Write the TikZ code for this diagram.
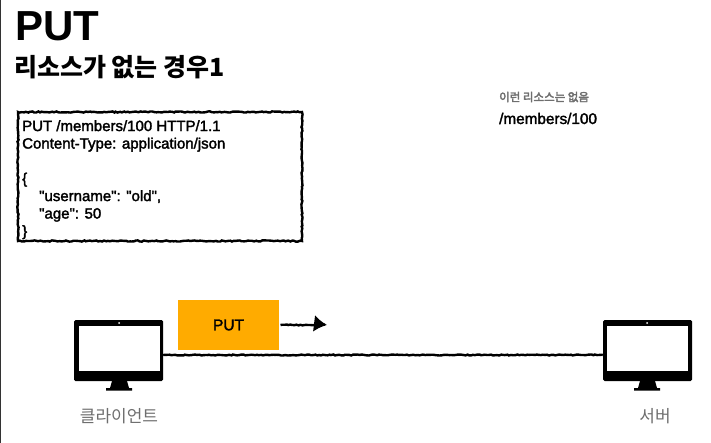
\documentclass[tikz,border=0pt]{standalone}
\usepackage{fontspec}
\setmainfont{Liberation Sans}
\newfontfamily\sansmed[FakeBold=2]{Liberation Sans}
\newfontfamily\cjk{Noto Sans CJK KR}
\newfontfamily\cjkmed[FakeBold=3]{Noto Sans CJK KR}
\usetikzlibrary{decorations.pathmorphing,arrows.meta}
\begin{document}
\begin{tikzpicture}[
        x=1pt, y=-1pt,
        title/.style={inner sep=0pt, anchor=west, font=\fontsize{42}{42}\selectfont\bfseries},
        subtitle/.style={inner sep=0pt, anchor=west, font=\fontsize{25}{25}\selectfont\cjk\bfseries},
        request/.style={draw, line width=2.4pt, decorate, decoration={random steps, segment length=2pt, amplitude=0.6pt}, minimum width=284pt, minimum height=129pt, inner sep=0pt},
        body/.style={inner sep=0pt, anchor=north west, align=left, font=\fontsize{15}{17.5}\selectfont\sansmed},
        method/.style={fill=orange1, minimum width=101pt, minimum height=50pt, inner sep=0pt, font=\fontsize{15.5}{16}\selectfont\sansmed},
        screen/.style={fill=black, rounded corners=1.5pt, minimum width=89pt, minimum height=61pt, inner sep=0pt},
        display/.style={fill=white, minimum width=81pt, minimum height=45pt, inner sep=0pt},
        caption/.style={text=gray1, inner sep=0pt, font=\fontsize{17}{17}\selectfont\cjk},
        rough/.style={line width=2.4pt, decorate, decoration={random steps, segment length=2pt, amplitude=0.5pt}}
    ]
    \definecolor{orange1}{HTML}{FFAB00}
    \definecolor{gray1}{HTML}{6E6E6E}
    \useasboundingbox (0, 0) rectangle (711, 443);

    % Window edge
    \fill[black!80] (0, 0) rectangle (1, 443);

    % Titles
    \node[title] (put_title) at (15, 26) {PUT};
    \node[subtitle] (case_title) at (14, 67) {리소스가 없는 경우1};

    % Request
    \node[request] (request_box) at (160, 176.5) {};
    \node[body] (request_text) at (22, 120) {PUT /members/100 HTTP/1.1\\
        Content-Type: application/json\\
        \mbox{}\\
        \{\\
        \hspace*{17pt}"username": "old",\\
        \hspace*{17pt}"age": 50\\
        \}};

    % Resource note
    \node[inner sep=0pt, anchor=west, text=gray1, font=\fontsize{11.5}{12}\selectfont\cjkmed] (note) at (499, 97) {이런 리소스는 없음};
    \node[inner sep=0pt, anchor=west, font=\fontsize{15.3}{16}\selectfont\sansmed] (resource) at (499, 118.5) {/members/100};

    % Client
    \node[screen] (client) at (118.5, 350.5) {};
    \node[display] (client_display) at (119.5, 348.5) {};
    \fill[white] (119, 323) circle (1);
    \fill (112, 381) -- (127, 381) -- (129, 388) -- (132, 388) -- (132, 390.5) -- (106, 390.5) -- (106, 388) -- (110, 388) -- cycle;
    \node[caption] (client_label) at (119, 416) {클라이언트};

    % Server
    \node[screen] (server) at (647.5, 350.5) {};
    \node[display] (server_display) at (647.5, 348.5) {};
    \fill[white] (647, 323) circle (1);
    \fill (640, 381) -- (655, 381) -- (657, 388) -- (660, 388) -- (660, 390.5) -- (634, 390.5) -- (634, 388) -- (638, 388) -- cycle;
    \node[caption] (server_label) at (655, 416) {서버};

    % Method and arrow
    \node[method] (put_box) at (228.5, 325) {PUT};
    \coordinate (arrow_end) at (327, 325);
    \draw[rough, -{Latex[length=13pt, width=17pt]}] (put_box) ++(52, 0) -- (arrow_end);

    % Link
    \draw[rough] (client.east |- 0, 355) -- (server.west |- 0, 355);
\end{tikzpicture}
\end{document}
